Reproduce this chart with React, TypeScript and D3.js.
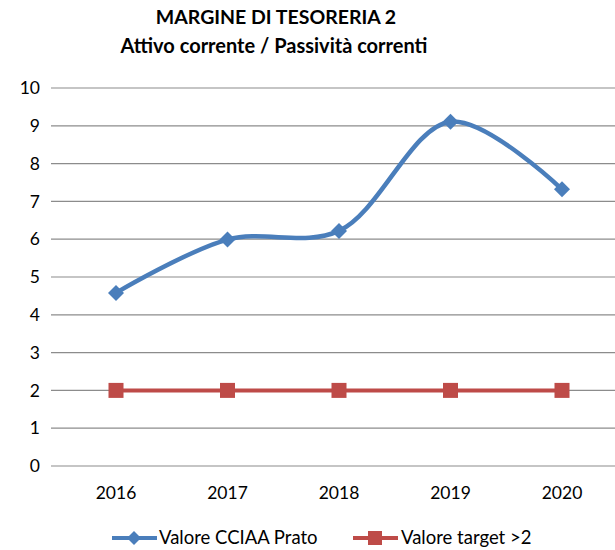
import React from 'react';
import * as d3 from 'd3';

const years = ['2016', '2017', '2018', '2019', '2020'];
const valoreCciaa = [4.58, 5.99, 6.22, 9.11, 7.32];
const valoreTarget = [2, 2, 2, 2, 2];
const yTicks = [0, 1, 2, 3, 4, 5, 6, 7, 8, 9, 10];

const W = 615;
const H = 550;
const FONT = 'Lato, "Open Sans", sans-serif';
const BLUE = '#4A7EBB';
const RED = '#BE4B48';

export default function App() {
  const x = d3.scalePoint<string>().domain(years).range([116, 562]);
  const y = d3.scaleLinear().domain([0, 10]).range([466, 88]);

  const line = d3
    .line<number>()
    .x((_, i) => x(years[i]) as number)
    .y(d => y(d))
    .curve(d3.curveCatmullRom.alpha(0.5));

  const flat = d3
    .line<number>()
    .x((_, i) => x(years[i]) as number)
    .y(d => y(d));

  const diamond = (cx: number, cy: number, r: number) =>
    `M${cx},${cy - r}L${cx + r},${cy}L${cx},${cy + r}L${cx - r},${cy}Z`;

  return (
    <svg width={W} height={H} style={{ position: 'absolute', left: 0, top: 0, background: '#fff' }}>
      <g fontFamily={FONT} fontWeight="bold" textAnchor="middle" fill="#000">
        <text x={276} y={24} fontSize={19.5}>MARGINE DI TESORERIA 2</text>
        <text x={274} y={53} fontSize={20}>Attivo corrente / Passività correnti</text>
      </g>

      {/* griglia */}
      {yTicks.map(t => (
        <line key={t} x1={51} x2={W} y1={y(t)} y2={y(t)} stroke="#8c8c8c" strokeWidth={1.2} />
      ))}

      {/* etichette assi */}
      <g fontFamily={FONT} fontSize={17.5} fill="#000">
        {yTicks.map(t => (
          <text key={t} x={40} y={y(t)} dy="0.35em" textAnchor="end">{t}</text>
        ))}
        {years.map(yr => (
          <text key={yr} x={x(yr)} y={499} textAnchor="middle">{yr}</text>
        ))}
      </g>

      {/* serie target */}
      <path d={flat(valoreTarget) || ''} fill="none" stroke={RED} strokeWidth={4} />
      {valoreTarget.map((v, i) => (
        <rect key={i} x={(x(years[i]) as number) - 7.5} y={y(v) - 7.5} width={15} height={15} fill={RED} />
      ))}

      {/* serie CCIAA */}
      <path d={line(valoreCciaa) || ''} fill="none" stroke={BLUE} strokeWidth={4.5} strokeLinecap="round" />
      {valoreCciaa.map((v, i) => (
        <path key={i} d={diamond(x(years[i]) as number, y(v), 8)} fill={BLUE} />
      ))}

      {/* legenda */}
      <g fontFamily={FONT} fontSize={18.5} fill="#000">
        <line x1={112} x2={157} y1={538} y2={538} stroke={BLUE} strokeWidth={4} />
        <path d={diamond(134, 538, 7)} fill={BLUE} />
        <text x={159} y={538} dy="0.35em">Valore CCIAA Prato</text>
        <line x1={353} x2={398} y1={538} y2={538} stroke={RED} strokeWidth={4} />
        <rect x={368} y={531} width={14} height={14} fill={RED} />
        <text x={401} y={538} dy="0.35em">Valore target &gt;2</text>
      </g>
    </svg>
  );
}
